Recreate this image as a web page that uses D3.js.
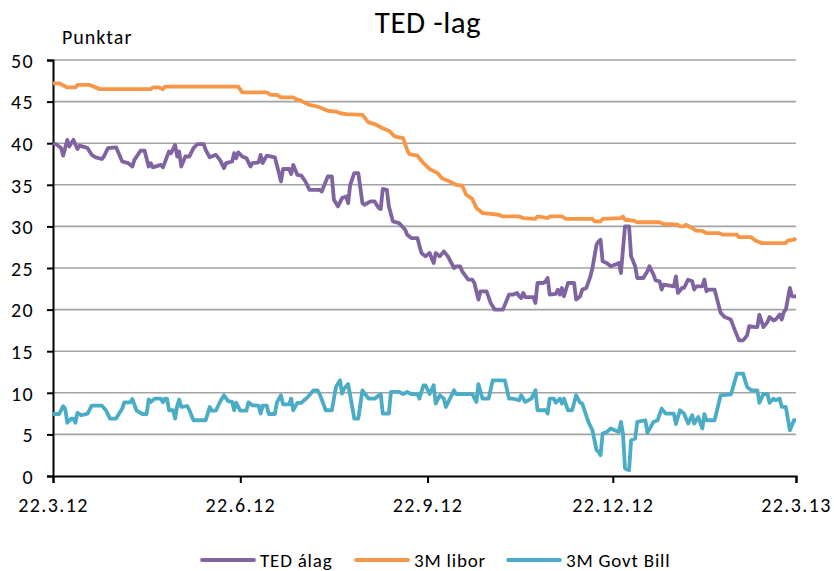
<!DOCTYPE html>
<html>
<head>
<meta charset="utf-8">
<script src="https://cdn.jsdelivr.net/npm/d3@7"></script>
<style>
  body { margin: 0; background: #fff; }
  text { font-family: Calibri, Carlito, Lato, sans-serif; fill: #000; }
</style>
</head>
<body>
<svg id="chart" width="834" height="571"></svg>
<script>
// TED spread chart, days counted from 22.3.12

var startDate = new Date( 2012, 2, 22 );
var tickDates = [ new Date( 2012, 2, 22 ), new Date( 2012, 5, 22 ), new Date( 2012, 8, 22 ),
                  new Date( 2012, 11, 22 ), new Date( 2013, 2, 22 ) ];
var yTicks = [ 0, 5, 10, 15, 20, 25, 30, 35, 40, 45, 50 ];
var seriesNames = [ 'TED álag', '3M libor', '3M Govt Bill' ];
var seriesColors = [ '#8064a2', '#f79646', '#4bacc6' ];

var tedData = [
    [0,40.0],[2,39.8],[4,39.4],[5,38.5],[7,40.4],[8,39.6],[10,40.4],[12,39.3],[13,39.7],[16,39.5],
    [17,39.4],[19,38.6],[21,38.3],[24,38.1],[25,38.4],[27,39.4],[31,39.5],[34,37.8],[37,37.6],[39,37.2],
    [40,38.0],[43,39.1],[45,39.1],[47,37.2],[48,37.6],[49,37.1],[53,37.4],[54,37.1],[57,39.0],[58,38.8],
    [60,39.8],[61,38.4],[62,39.0],[63,37.2],[65,38.4],[67,38.4],[69,39.4],[71,39.9],[74,39.9],[75,39.2],
    [77,38.3],[80,38.6],[82,38.0],[84,37.0],[85,37.6],[88,37.8],[89,38.8],[90,38.2],[91,38.9],[93,38.4],
    [95,38.2],[97,37.2],[98,37.6],[101,37.7],[102,38.6],[103,37.6],[105,38.5],[109,38.3],[111,36.4],[112,35.4],
    [113,36.9],[116,36.9],[117,36.3],[118,37.4],[120,36.2],[122,36.1],[124,35.4],[126,34.4],[131,34.4],[132,34.2],
    [134,35.4],[135,36.0],[137,36.0],[138,33.2],[140,32.4],[142,33.4],[144,33.6],[145,32.8],[146,35.0],[148,36.4],
    [150,36.4],[152,32.8],[153,32.6],[156,33.0],[158,33.0],[160,32.2],[161,32.1],[162,34.5],[164,34.4],[165,32.4],
    [167,30.6],[170,30.4],[173,29.6],[174,29.0],[176,28.6],[179,28.6],[181,26.8],[183,26.4],[185,26.8],[187,25.6],
    [188,26.8],[190,26.4],[192,27.0],[194,26.4],[197,25.0],[198,25.2],[200,25.2],[201,24.6],[204,23.6],[206,23.6],
    [207,23.2],[209,21.2],[210,22.2],[213,22.2],[215,20.8],[217,20.0],[221,20.0],[224,21.8],[226,21.8],[228,22.0],
    [229,21.6],[230,21.4],[231,22.0],[232,21.5],[236,21.5],[237,20.8],[238,23.2],[241,23.2],[242,23.4],[243,23.8],
    [244,21.8],[247,21.9],[248,22.4],[249,21.8],[250,22.6],[251,21.6],[253,23.2],[256,23.2],[257,21.2],[259,21.6],
    [260,22.4],[262,22.6],[264,24.0],[265,25.0],[266,26.4],[267,27.8],[268,28.2],[269,28.4],[270,25.8],[272,25.6],
    [274,25.2],[276,25.4],[278,25.6],[279,24.4],[280,27.2],[281,30.0],[283,30.0],[284,26.4],[286,25.2],[287,23.8],
    [290,23.8],[292,24.6],[293,25.2],[295,24.2],[296,23.5],[298,23.4],[299,22.4],[300,23.0],[305,22.8],[306,24.0],
    [307,22.0],[309,22.6],[310,22.6],[312,23.6],[314,23.4],[315,22.4],[316,22.8],[319,22.8],[320,23.6],[321,22.2],
    [322,22.4],[325,22.4],[328,19.6],[330,19.1],[333,18.8],[335,17.5],[337,16.3],[339,16.3],[341,16.9],[342,18.0],
    [345,17.9],[346,17.9],[347,19.4],[349,17.9],[351,18.5],[352,19.1],[354,18.7],[355,18.8],[357,19.4],[358,18.8],
    [359,19.7],[360,20.0],[362,22.6],[363,21.6],[365,21.6]
];

var liborData = [
    [0,47.2],[3,47.2],[7,46.7],[11,46.7],[12,47.0],[18,47.0],[23,46.5],[48,46.5],[49,46.7],[52,46.7],
    [54,46.5],[55,46.8],[91,46.8],[93,46.1],[105,46.1],[107,45.8],[110,45.8],[112,45.5],[118,45.5],[120,45.2],
    [121,45.2],[126,44.6],[130,44.4],[135,43.9],[139,43.8],[141,43.6],[144,43.5],[152,43.4],[155,42.5],[158,42.3],
    [162,41.8],[165,41.5],[168,40.8],[172,40.6],[174,39.2],[175,38.7],[179,38.5],[182,37.6],[185,36.9],[189,36.4],
    [191,35.8],[194,35.5],[198,35.0],[201,34.9],[203,33.8],[206,33.3],[208,32.2],[211,31.6],[215,31.5],[219,31.4],
    [221,31.2],[229,31.2],[231,31.0],[237,30.9],[238,31.2],[243,31.0],[244,31.2],[250,31.2],[252,30.9],[265,30.9],
    [266,30.6],[269,30.6],[270,30.9],[279,31.0],[280,31.2],[281,30.8],[285,30.7],[287,30.5],[298,30.5],[300,30.3],
    [307,30.2],[308,30.0],[310,30.0],[311,30.2],[314,29.8],[316,29.5],[319,29.45],[321,29.2],[327,29.2],[329,29.0],
    [336,29.0],[337,28.7],[343,28.7],[345,28.3],[348,28.0],[360,28.0],[361,28.3],[364,28.4],[365,28.6]
];

var billData = [
    [0,7.45],[3,7.45],[5,8.4],[6,8.1],[7,6.4],[9,6.9],[10,6.9],[11,6.4],[12,7.6],[14,7.3],
    [17,7.5],[19,8.45],[24,8.45],[26,7.9],[28,6.9],[31,6.9],[34,8.1],[35,8.85],[38,8.85],[39,9.25],
    [41,7.9],[44,7.45],[46,7.45],[47,9.2],[48,8.9],[50,9.3],[53,9.3],[54,8.85],[55,9.3],[56,9.3],
    [57,7.9],[59,7.9],[60,6.9],[61,8.4],[62,9.2],[63,8.3],[66,8.4],[67,7.9],[69,6.7],[75,6.7],
    [77,8.3],[78,7.85],[80,7.85],[82,8.9],[84,9.7],[86,9.0],[88,8.9],[89,7.9],[90,8.8],[92,7.85],
    [95,7.85],[96,8.85],[98,8.5],[101,8.45],[102,7.5],[103,8.45],[105,8.45],[106,7.45],[109,7.45],[110,8.85],
    [112,9.7],[113,8.6],[116,8.6],[117,9.3],[118,7.9],[120,8.8],[122,8.8],[125,9.45],[128,10.3],[130,10.3],
    [131,9.85],[134,7.9],[137,7.9],[139,10.7],[141,11.5],[142,9.9],[143,10.5],[145,11.05],[147,8.3],[148,6.9],
    [150,6.9],[152,10.3],[155,9.3],[158,9.3],[161,9.85],[162,7.5],[165,7.5],[166,10.1],[170,10.1],[172,9.85],
    [174,10.1],[176,9.85],[179,9.85],[180,9.3],[182,10.9],[183,10.9],[185,9.85],[187,10.9],[188,8.7],[190,9.7],
    [192,9.3],[193,8.3],[195,9.3],[197,10.3],[198,9.85],[206,9.85],[208,8.9],[209,11.05],[211,9.3],[214,9.3],
    [216,11.5],[222,11.5],[224,9.3],[226,9.3],[229,9.1],[230,9.7],[232,8.9],[235,9.3],[237,10.3],[238,7.9],
    [242,7.9],[243,7.5],[244,9.3],[246,9.3],[247,8.8],[249,9.3],[250,8.7],[251,9.3],[253,7.9],[255,7.9],
    [257,9.7],[259,8.8],[260,8.7],[263,6.5],[265,5.5],[267,3.1],[268,2.9],[269,2.5],[270,5.1],[272,5.3],
    [274,5.7],[276,5.5],[278,5.3],[279,6.5],[280,5.1],[281,0.9],[283,0.7],[284,4.3],[286,4.5],[287,6.5],
    [291,6.7],[292,5.2],[295,6.5],[297,6.7],[299,8.1],[301,7.5],[305,7.5],[306,6.25],[308,7.9],[310,7.5],
    [312,6.3],[314,7.3],[315,6.3],[317,7.1],[319,5.7],[320,7.45],[321,6.7],[325,6.7],[328,9.7],[333,9.8],
    [336,12.3],[339,12.3],[341,10.7],[343,10.3],[346,10.3],[347,8.8],[349,9.85],[351,9.85],[352,8.8],[354,9.3],
    [355,9.1],[357,9.3],[358,8.3],[360,8.3],[362,5.5],[364,6.7],[365,6.7]
];

var allSeries = [ tedData, liborData, billData ];

var svg = d3.select( '#chart' );

var x = d3.scaleTime()
    .domain( [ tickDates[ 0 ], tickDates[ 4 ] ] )
    .range( [ 53, 796 ] );

var y = d3.scaleLinear()
    .domain( [ 0, 50 ] )
    .range( [ 476, 60 ] );

// gridlines
svg.append( 'g' )
    .selectAll( 'line' )
    .data( yTicks.slice( 1 ) )
    .enter().append( 'line' )
        .attr( 'x1', 53 )
        .attr( 'x2', 796 )
        .attr( 'y1', function( d ) { return y( d ); } )
        .attr( 'y2', function( d ) { return y( d ); } )
        .style( 'stroke', '#a3a3a3' )
        .style( 'stroke-width', 1.6 );

// axes
var yAxis = svg.append( 'g' )
    .attr( 'transform', 'translate( 53, 0 )' )
    .call( d3.axisLeft( y ).tickValues( yTicks ).tickSize( 6 ).tickPadding( 13 ) );

var xAxis = svg.append( 'g' )
    .attr( 'transform', 'translate( 0, 476 )' )
    .call( d3.axisBottom( x ).tickValues( tickDates ).tickSize( 7 ).tickPadding( 15 )
        .tickFormat( d3.timeFormat( '%-d.%-m.%y' ) ) );

[ yAxis, xAxis ].forEach( function( a ) {
    a.select( '.domain' ).style( 'stroke', '#000' ).style( 'stroke-width', 2 );
    a.selectAll( '.tick line' ).style( 'stroke', '#000' ).style( 'stroke-width', 2 );
    a.selectAll( 'text' )
        .style( 'font-size', '20px' )
        .style( 'letter-spacing', '1.4px' )
        .style( 'font-family', 'Calibri, Carlito, Lato, sans-serif' );
});
yAxis.selectAll( 'text' ).attr( 'dy', '0.36em' );

// lines
var line = d3.line()
    .x( function( d ) { return x( d3.timeDay.offset( startDate, d[ 0 ] ) ); } )
    .y( function( d ) { return y( d[ 1 ] ); } );

svg.append( 'g' )
    .selectAll( 'path' )
    .data( allSeries )
    .enter().append( 'path' )
        .attr( 'd', line )
        .style( 'fill', 'none' )
        .style( 'stroke', function( d, i ) { return seriesColors[ i ]; } )
        .style( 'stroke-width', 3.8 )
        .style( 'stroke-linejoin', 'round' );

// titles
svg.append( 'text' )
    .attr( 'x', 428 )
    .attr( 'y', 33 )
    .attr( 'text-anchor', 'middle' )
    .style( 'font-size', '31px' )
    .style( 'letter-spacing', '0.5px' )
    .text( 'TED -lag' );

svg.append( 'text' )
    .attr( 'x', 62 )
    .attr( 'y', 44 )
    .style( 'font-size', '20px' )
    .style( 'letter-spacing', '1px' )
    .text( 'Punktar' );

// legend
var legendX = [ 202, 356, 508 ];
var legend = svg.append( 'g' )
    .selectAll( 'g' )
    .data( seriesNames )
    .enter().append( 'g' )
        .attr( 'transform', function( d, i ) { return 'translate( ' + legendX[ i ] + ', 560 )'; } );

legend.append( 'line' )
    .attr( 'x1', 0 )
    .attr( 'x2', 52 )
    .style( 'stroke', function( d, i ) { return seriesColors[ i ]; } )
    .style( 'stroke-width', 3.8 )
    .style( 'stroke-linecap', 'round' );

legend.append( 'text' )
    .attr( 'x', 58 )
    .attr( 'y', 7 )
    .style( 'font-size', '19px' )
    .style( 'letter-spacing', '0.8px' )
    .text( function( d ) { return d; } );
</script>
</body>
</html>
